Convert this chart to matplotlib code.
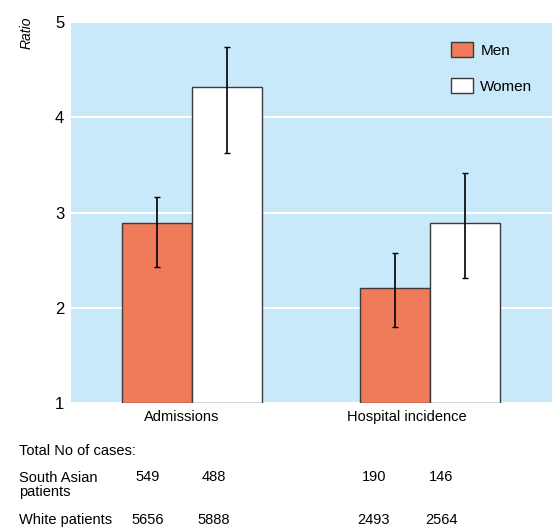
import matplotlib.pyplot as plt
import numpy as np

# data
categories = ['Admissions', 'Hospital incidence']
men = [2.89, 2.21]
men_lo = [2.43, 1.80]
men_hi = [3.16, 2.58]
women = [4.32, 2.89]
women_lo = [3.63, 2.31]
women_hi = [4.74, 3.42]
yticks = [1, 2, 3, 4, 5]

row_labels = ['Total No of cases:', 'South Asian\npatients', 'White patients']
south_asian = ['549', '488', '190', '146']
white = ['5656', '5888', '2493', '2564']

plt.rcParams['font.family'] = ['Liberation Sans', 'DejaVu Sans']

bg = '#c8e9f9'
men_col = '#f07b5b'

fig = plt.figure(figsize=(5.52, 5.29), dpi=100)
ax = fig.add_axes([0.129, 0.238, 0.871, 0.72])
ax.set_facecolor(bg)

x = np.arange(len(categories))
w = 0.296
ax.bar(x - w / 2, [m - 1 for m in men], w, bottom=1, color=men_col,
       edgecolor='#3a3a3a', linewidth=1, label='Men', zorder=3)
ax.bar(x + w / 2, [v - 1 for v in women], w, bottom=1, color='white',
       edgecolor='#3a3a3a', linewidth=1, label='Women', zorder=3)

ax.errorbar(x - w / 2, men,
            yerr=[np.subtract(men, men_lo), np.subtract(men_hi, men)],
            fmt='none', ecolor='black', elinewidth=1.2, capsize=2.5, zorder=4)
ax.errorbar(x + w / 2, women,
            yerr=[np.subtract(women, women_lo), np.subtract(women_hi, women)],
            fmt='none', ecolor='black', elinewidth=1.2, capsize=2.5, zorder=4)

ax.set_xlim(-0.508, 1.513)
ax.set_ylim(1, 5)
ax.set_yticks(yticks)
ax.set_yticklabels([str(t) for t in yticks], fontsize=12)
ax.grid(axis='y', color='white', linewidth=1.5, zorder=1)
ax.set_axisbelow(True)
for s in ax.spines.values():
    s.set_visible(False)
ax.tick_params(length=0)
ax.tick_params(axis='y', pad=5)

ax.set_xticks(x + np.array([-0.042, -0.097]))
ax.set_xticklabels(categories, fontsize=10.5)
ax.tick_params(axis='x', pad=5)

fig.text(27 / 552, 1 - 33 / 529, 'Ratio', rotation=90, style='italic',
         fontsize=10, ha='center', va='center')

ax.legend(loc='upper right', bbox_to_anchor=(0.988, 0.985), frameon=False,
          fontsize=11, handlelength=1.45, handleheight=1.2, labelspacing=1.3,
          handletextpad=0.5)

# table of case counts
num_x = [148, 214, 374, 441]
fig.text(19 / 552, 1 - 451 / 529, row_labels[0], fontsize=10.5, va='center')
fig.text(19 / 552, 1 - 485 / 529, row_labels[1], fontsize=10.5, va='center',
         linespacing=0.95)
fig.text(19 / 552, 1 - 520 / 529, row_labels[2], fontsize=10.5, va='center')
for xi, a, b in zip(num_x, south_asian, white):
    fig.text(xi / 552, 1 - 477 / 529, a, fontsize=10.5, ha='center', va='center')
    fig.text(xi / 552, 1 - 520 / 529, b, fontsize=10.5, ha='center', va='center')

fig.savefig('out.png', dpi=100)
